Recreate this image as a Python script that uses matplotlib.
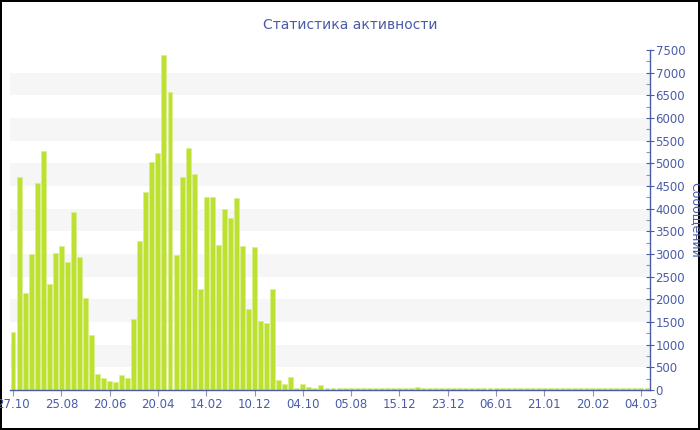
import numpy as np
import matplotlib
matplotlib.use("Agg")
import matplotlib.pyplot as plt
from matplotlib.ticker import MultipleLocator

# ── data (messages per period) ──────────────────────────────────────────────
MESSAGES = [
    1290, 4690, 2150, 3000, 4560, 5270, 2330, 3030, 3180, 2820,
    3920, 2940, 2040, 1220, 346, 265, 199, 169, 327, 265,
    1573, 3285, 4360, 5020, 5220, 7385, 6565, 2985, 4705, 5345,
    4765, 2235, 4260, 4250, 3190, 3993, 3790, 4246, 3178, 1794,
    3165, 1522, 1471, 2221, 213, 122, 279, 44, 140, 66,
    44, 110, 44, 35, 38, 35, 40, 35, 38, 40,
    35, 38, 40, 35, 38, 42, 45, 60, 42, 38,
    38, 35, 40, 38, 45, 38, 35, 40, 38, 42,
    35, 38, 45, 38, 35, 40, 38, 35, 42, 38,
    40, 35, 38, 42, 35, 38, 40, 35, 38, 35,
    40, 38, 35, 42, 38, 45,
]
TICK_LABELS = ["27.10", "25.08", "20.06", "20.04", "14.02", "10.12", "04.10",
               "05.08", "15.12", "23.12", "06.01", "21.01", "20.02", "04.03"]
TICK_EVERY = 8

TITLE = "Статистика активности"
YLABEL = "Сообщений"

BLUE = "#4a5ca8"
BAR = "#bde130"

fig = plt.figure(figsize=(7, 4.3), dpi=100)
fig.patch.set_edgecolor("black")
fig.patch.set_linewidth(1.5)
ax = fig.add_axes([10 / 700, 40 / 430, 640 / 700, 340 / 430])

x = np.arange(len(MESSAGES))

# alternating light bands
for lo in range(500, 7500, 1000):
    ax.axhspan(lo, lo + 500, color="#f6f6f6", zorder=0, lw=0)

ax.bar(x, MESSAGES, width=0.82, color=BAR, edgecolor="#d9ee90",
       linewidth=0.5, zorder=2)

ax.set_xlim(-0.5, len(MESSAGES) - 0.5)
ax.set_ylim(0, 7500)

ax.set_xticks(x[::TICK_EVERY][:len(TICK_LABELS)])
ax.set_xticklabels(TICK_LABELS, fontsize=8.5, color=BLUE)
ax.tick_params(axis="x", direction="out", length=4, width=0.8, colors="#8a93b8",
               labelcolor=BLUE, pad=2)

ax.yaxis.tick_right()
ax.yaxis.set_label_position("right")
ax.yaxis.set_major_locator(MultipleLocator(500))
ax.yaxis.set_minor_locator(MultipleLocator(250))
ax.tick_params(axis="y", which="major", direction="inout", length=6, width=0.8,
               colors=BLUE, labelsize=8.5, pad=1)
ax.tick_params(axis="y", which="minor", direction="in", length=3, width=0.8,
               colors="#8a93b8")
ax.set_ylabel(YLABEL, rotation=270, color=BLUE, fontsize=9, va="center")
ax.yaxis.set_label_coords(1.0715, 0.5)

for side in ["top", "left"]:
    ax.spines[side].set_visible(False)
for side in ["bottom", "right"]:
    ax.spines[side].set_color(BLUE)
    ax.spines[side].set_linewidth(1.0)

fig.text(0.5, 1 - 25 / 430, TITLE, ha="center", va="center",
         fontsize=10, color=BLUE)

plt.savefig("out.png", dpi=100)
